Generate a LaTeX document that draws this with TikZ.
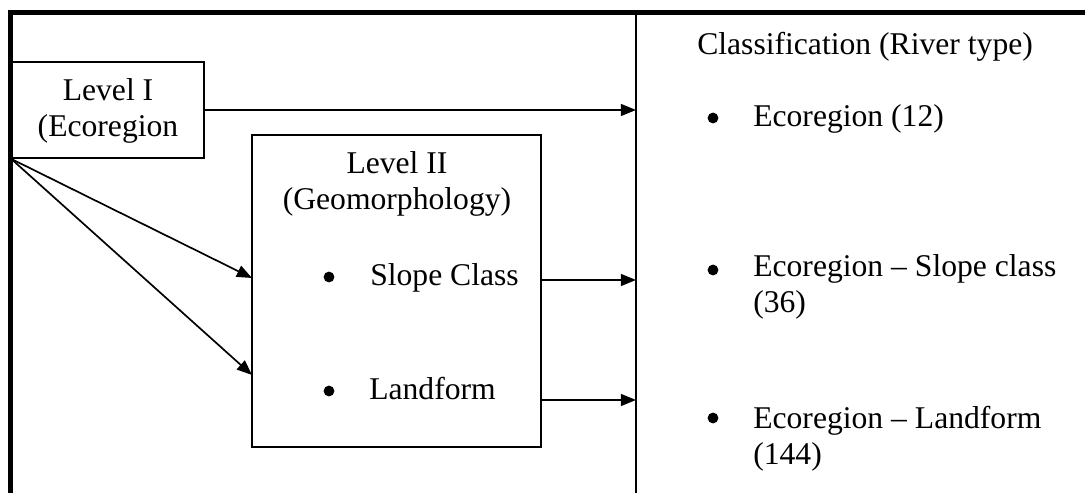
\documentclass[tikz,border=0pt]{standalone}
\usepackage{fontspec}
\setmainfont{Liberation Serif}
\usetikzlibrary{positioning}
\usetikzlibrary{arrows.meta}
\tikzset{levelbox/.style={draw, line width=1.2pt, inner sep=0pt}}
\tikzset{txt/.style={inner sep=0pt, font=\fontsize{22.5}{26}\selectfont}}
\tikzset{dot/.style={circle, fill=black, inner sep=0pt, minimum size=0.27cm}}
\tikzset{flow/.style={-{Triangle[length=0.38cm, width=0.3cm]}, line width=1.2pt}}

\begin{document}
\begin{tikzpicture}
\useasboundingbox (0,0) rectangle (27.125,12.325);

\draw[line width=0.125cm] (0.2625,0) -- (0.2625,12.0125) -- (27.125,12.0125);

\node[levelbox, minimum width=4.8cm, minimum height=2.4cm] (lvlone) at (2.7,9.575) {};
\node[txt, align=center, anchor=base] (lvlonetitle) at (2.7,8.9) {Level I\\(Ecoregion};
\node[levelbox, minimum width=7.225cm, minimum height=7.8cm] (lvltwo) at (9.9125,5.05) {};
\node[txt, align=center, anchor=base] (lvltwotitle) at (9.925,7.075) {Level II\\(Geomorphology)};

\node[dot] (slopedot) at (8.225,5.4) {};
\node[txt, anchor=base west] (slope) at (9.25,5.175) {Slope Class};
\node[dot] (landdot) at (8.225,2.55) {};
\node[txt, anchor=base west] (land) at (9.225,2.325) {Landform};

\coordinate (cls) at (15.9,0);
\draw[line width=1.2pt] (cls) -- (15.9,12.0);
\node[txt, anchor=base west] (clstitle) at (17.425,10.95) {Classification (River type)};

\node[dot] (ecodot) at (17.825,9.375) {};
\node[txt, anchor=base west] (eco) at (18.825,9.15) {Ecoregion (12)};
\node[dot] (ecoslopedot) at (17.825,5.575) {};
\node[txt, anchor=base west, align=left] (ecoslope) at (18.825,4.5) {Ecoregion -- Slope class\\(36)};
\node[dot] (ecolanddot) at (17.825,1.875) {};
\node[txt, anchor=base west, align=left] (ecoland) at (18.825,0.7) {Ecoregion -- Landform\\(144)};

\coordinate (inslope) at (6.3,5.375);
\coordinate (inland) at (6.3,2.95);
\coordinate (rowslope) at (0,5.325);
\coordinate (rowland) at (0,2.325);

\draw[flow] (lvlone.east) -- (lvlone.east -| cls);
\draw[flow] (lvlone.south west) -- (inslope);
\draw[flow] (lvlone.south west) -- (inland);
\draw[flow] (lvltwo.east |- rowslope) -- (cls |- rowslope);
\draw[flow] (lvltwo.east |- rowland) -- (cls |- rowland);

\end{tikzpicture}
\end{document}
